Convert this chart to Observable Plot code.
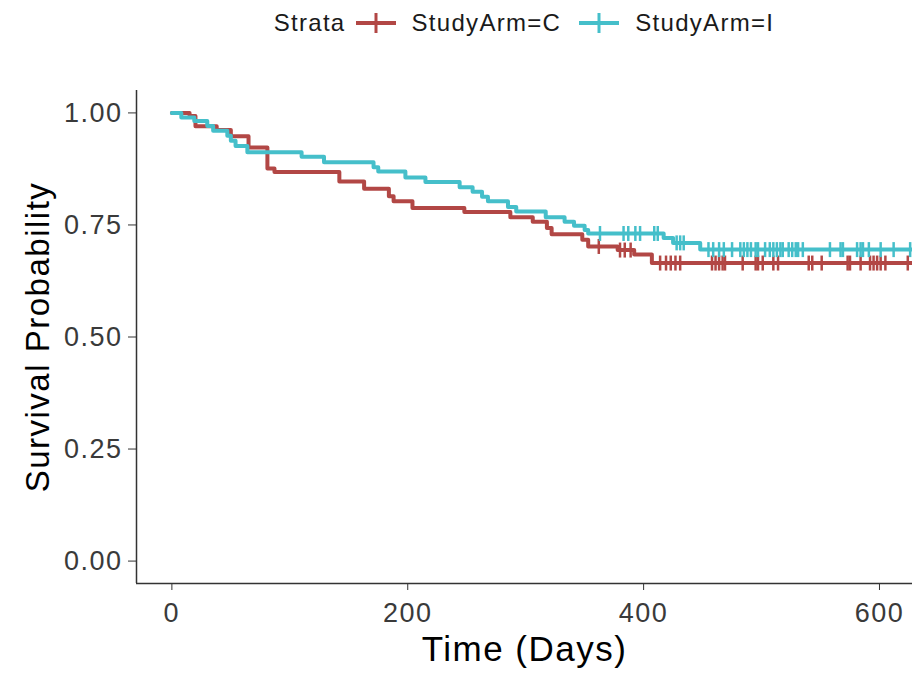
<!DOCTYPE html>
<html><head><meta charset="utf-8">
<script src="https://cdn.jsdelivr.net/npm/d3@7"></script>
<script src="https://cdn.jsdelivr.net/npm/@observablehq/plot@0.6"></script>
<style>
body{margin:0;background:#fff;font-family:"Liberation Sans",Arial,sans-serif;}
#legend{height:46px;width:776px;margin-left:136px;display:flex;justify-content:center;align-items:center;font-size:24px;color:#1a1a1a;letter-spacing:1.3px;}
#legend .item{display:flex;align-items:center;}
#legend svg{display:block;}
#chart svg g[aria-label="y-axis tick label"] text,
#chart svg g[aria-label="x-axis tick label"] text{letter-spacing:1.5px;}
#chart svg g[aria-label="text"] text{letter-spacing:1.5px;}
</style></head><body>
<div id="legend"></div>
<div id="chart"></div>
<script>
// ---- data ----
const legendTitle = "Strata";
const arms = ["StudyArm=C", "StudyArm=I"];
const armColors = ["#B24745", "#45BFCA"];

// Kaplan-Meier steps, StudyArm=C
const timeC = [0, 15, 20, 38, 50, 65, 81, 87, 142, 163, 184, 188, 204, 248, 287, 306, 318, 322, 348, 353, 378, 392, 407];
const survC = [1.0, 0.993, 0.97, 0.962, 0.948, 0.923, 0.876, 0.868, 0.847, 0.831, 0.814, 0.803, 0.788, 0.779, 0.767, 0.757, 0.743, 0.729, 0.717, 0.702, 0.694, 0.684, 0.665];
// Kaplan-Meier steps, StudyArm=I
const timeI = [0, 8, 19, 30, 35, 47, 50, 54, 64, 110, 129, 171, 175, 198, 215, 244, 255, 263, 268, 285, 292, 317, 333, 341, 350, 353, 417, 425, 448];
const survI = [1.0, 0.99, 0.982, 0.971, 0.96, 0.949, 0.938, 0.926, 0.912, 0.902, 0.89, 0.879, 0.869, 0.856, 0.846, 0.834, 0.824, 0.813, 0.803, 0.79, 0.78, 0.767, 0.757, 0.748, 0.739, 0.731, 0.721, 0.71, 0.695];
// last follow-up time shown
const followUpEnd = [628, 628];
// censoring times
const censorC = [362, 380, 384, 389, 414, 419, 423, 427, 431, 458, 461, 464, 467, 469, 484, 495, 497, 501, 510, 514, 540, 543, 551, 573, 575, 584, 592, 595, 598, 601, 605, 624];
const censorI = [363, 383, 387, 393, 397, 409, 412, 428, 431, 434, 455, 459, 464, 468, 475, 482, 485, 488, 491, 495, 497, 503, 507, 510, 513, 516, 518, 523, 526, 529, 531, 535, 558, 567, 569, 581, 584, 586, 591, 601, 612, 626];

const xTicks = [0, 200, 400, 600];
const yTicks = [0, 0.25, 0.5, 0.75, 1];
const xDomain = [-30, 628];
const yDomain = [-0.05, 1.05];
const xTitle = "Time (Days)";
const yTitle = "Survival Probability";

// ---- build tables ----
const times = [timeC, timeI], survs = [survC, survI], censors = [censorC, censorI];
const lineData = arms.flatMap((arm, k) => {
  const rows = times[k].map((t, i) => ({arm, time: t, surv: survs[k][i]}));
  rows.push({arm, time: followUpEnd[k], surv: survs[k][survs[k].length - 1]});
  return rows;
});
function survAt(k, t) {
  const i = d3.bisectRight(times[k], t) - 1;
  return survs[k][Math.max(0, i)];
}
const censorData = arms.flatMap((arm, k) => censors[k].map(t => ({arm, time: t, surv: survAt(k, t)})));

const vtick = {draw(ctx, size) { const r = Math.sqrt(size / Math.PI); ctx.moveTo(0, -r); ctx.lineTo(0, r); }};

// ---- legend ----
const leg = document.getElementById("legend");
const title = document.createElement("span");
title.textContent = legendTitle;
title.style.marginRight = "8px";
leg.appendChild(title);
arms.forEach((arm, k) => {
  const item = document.createElement("span");
  item.className = "item";
  item.style.marginLeft = k ? "16px" : "0px";
  item.innerHTML = `<svg width="44" height="26"><line x1="2" x2="42" y1="13" y2="13" stroke="${armColors[k]}" stroke-width="4"/><line x1="22" x2="22" y1="3" y2="23" stroke="${armColors[k]}" stroke-width="3"/></svg><span style="margin-left:14px">${arm}</span>`;
  leg.appendChild(item);
});

// ---- plot ----
const chart = Plot.plot({
  width: 912,
  height: 637,
  marginLeft: 136,
  marginRight: 0,
  marginTop: 44,
  marginBottom: 100,
  style: {fontFamily: '"Liberation Sans", Arial, sans-serif', background: "white", overflow: "visible"},
  x: {domain: xDomain},
  y: {domain: yDomain},
  color: {domain: arms, range: armColors},
  marks: [
    Plot.axisY({ticks: yTicks, tickFormat: d3.format(".2f"), tickSize: 8, tickPadding: 6, fontSize: 27, stroke: "#333", fill: "#3a3a3a", label: null}),
    Plot.axisX({ticks: xTicks, tickFormat: d3.format("d"), tickSize: 7, tickPadding: 12, fontSize: 27, stroke: "#333", fill: "#3a3a3a", label: null}),
    Plot.ruleX([xDomain[0]], {stroke: "#333", strokeWidth: 1.5}),
    Plot.ruleY([yDomain[0]], {stroke: "#333", strokeWidth: 1.5}),
    Plot.line(lineData, {x: "time", y: "surv", z: "arm", stroke: "arm", strokeWidth: 4, curve: "step-after", clip: true}),
    Plot.dot(censorData, {x: "time", y: "surv", stroke: "arm", symbol: vtick, r: 7.5, strokeWidth: 2.5, fill: "none", clip: true}),
    Plot.text([xTitle], {text: d => d, frameAnchor: "bottom", dy: 77, fontSize: 35, fill: "#000"}),
    Plot.text([yTitle], {text: d => d, frameAnchor: "left", textAnchor: "middle", rotate: -90, dx: -98, fontSize: 33, fill: "#000"})
  ]
});
document.getElementById("chart").appendChild(chart);
</script>
</body></html>
